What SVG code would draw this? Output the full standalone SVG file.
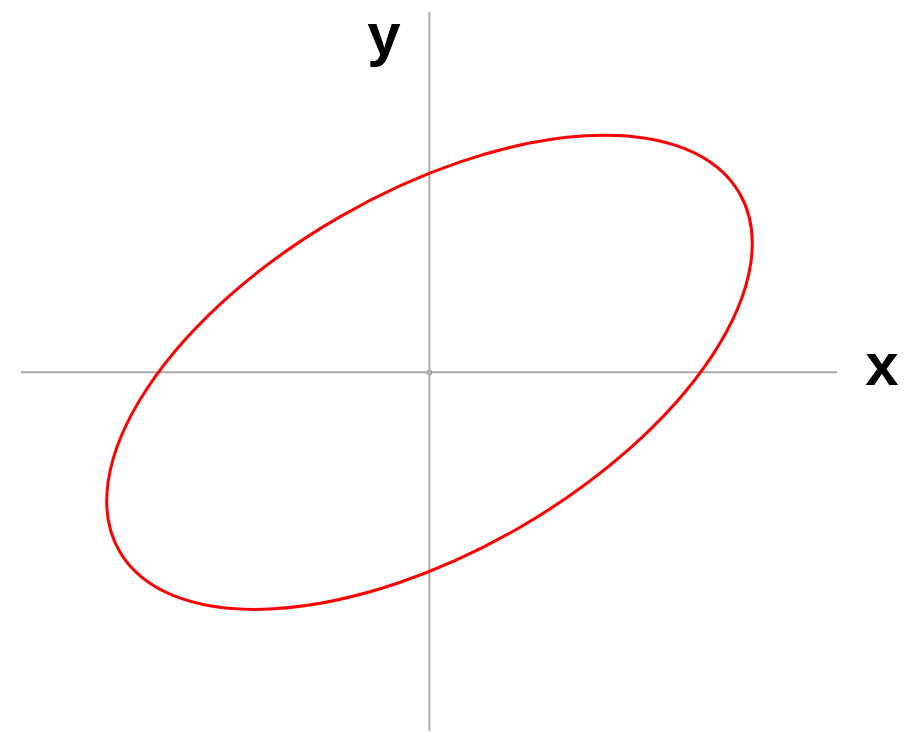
<svg xmlns="http://www.w3.org/2000/svg" width="913" height="732" viewBox="0 0 913 732">
<style>
.axis{stroke:#aaaaaa;stroke-width:2;fill:none}
.curve{stroke:#ff0000;stroke-width:3;fill:none}
.lbl{font-family:"Liberation Sans",Arial,sans-serif;font-size:60px;font-weight:bold;fill:#000}
</style>
<rect width="913" height="732" fill="#fff"/>
<g id="axes">
<line class="axis" x1="21" y1="372.3" x2="837" y2="372.3"/>
<line class="axis" x1="429.4" y1="12" x2="429.4" y2="731"/>
<circle cx="429.4" cy="372.3" r="2.5" fill="#bbbbbb" stroke="#888" stroke-width="0.8"/>
</g>
<g id="ellipse">
<ellipse class="curve" cx="429.5" cy="372.3" rx="358" ry="179.5" transform="rotate(-30 429.5 372.3)"/>
</g>
<g id="labels">
<text class="lbl" x="882" y="385" text-anchor="middle">x</text>
<text class="lbl" x="384" y="55" text-anchor="middle">y</text>
</g>
</svg>
